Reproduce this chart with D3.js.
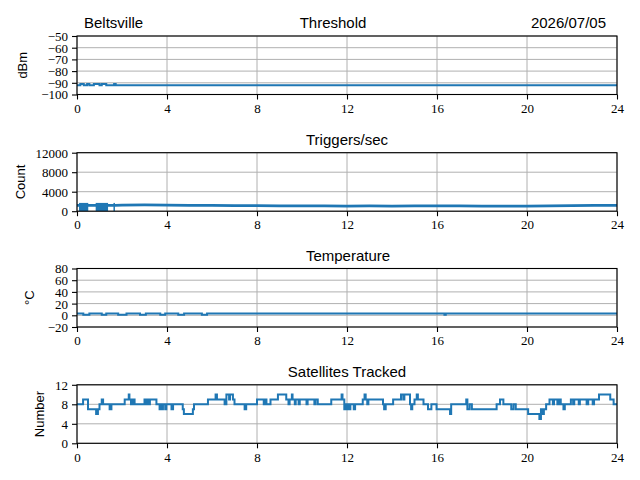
<!DOCTYPE html>
<meta charset="utf-8">
<script src="https://d3js.org/d3.v7.min.js"></script>
<style>
  body { margin: 0; background: #fff; }
  .tick text { font-family: "Liberation Serif", serif; font-size: 13px; fill: #000; }
  .ttl { font-family: "Liberation Sans", sans-serif; font-size: 15px; fill: #000; }
  .ylab { font-family: "Liberation Sans", sans-serif; font-size: 13px; fill: #000; }
</style>
<div id="chart"></div>
<script>
// x axis ticks (hours)
const hourTicks = [0, 4, 8, 12, 16, 20, 24];

// Threshold (dBm)
const threshHours  = [0, 0.15, 0.3, 0.45, 0.55, 0.75, 1.0, 1.1, 1.3, 1.65, 1.72, 24];
const threshValues = [-92, -91, -92, -91, -92, -91, -92, -91, -92, -91, -92, -92];
const threshTicks  = [-100, -90, -80, -70, -60, -50];

// Triggers/sec (Count)
const trigHours  = [0, 1.7, 2, 3, 4, 5, 6, 7, 8, 9, 10, 11, 12, 13, 14, 15, 16, 17, 18, 19, 20, 21, 22, 23, 24];
const trigValues = [1200, 1200, 1250, 1300, 1250, 1200, 1200, 1150, 1150, 1100, 1100, 1100, 1050, 1100, 1050, 1100, 1100, 1100, 1050, 1050, 1050, 1100, 1150, 1200, 1200];
// intervals where the count flickered between 0 and the peak
const trigFlickerStart = [0.09, 0.83, 1.62];
const trigFlickerEnd   = [0.50, 1.38, 1.68];
const trigFlickerPeak  = 1700;
const trigTicks = [0, 4000, 8000, 12000];

// Temperature (°C)
const tempHours  = [0, 0.28, 0.55, 1.1, 1.3, 1.83, 2.2, 2.8, 3.06, 3.7, 3.92, 4.5, 4.76, 5.55, 5.78, 16.33, 16.39, 24];
const tempValues = [3, 1, 3, 1, 3, 1, 3, 1, 3, 1, 3, 1, 3, 1, 3, 1, 3, 3];
const tempTicks  = [-20, 0, 20, 40, 60, 80];

// Satellites tracked (Number)
const satHours = [0, 0.27, 0.49, 0.85, 0.93, 1.0, 1.1, 1.16, 1.45, 1.53, 2.12, 2.3, 2.33, 2.4, 2.43, 2.5, 2.53, 2.56,
  3.0, 3.08, 3.12, 3.2, 3.24, 3.53, 3.67, 3.72, 3.78, 3.82, 3.92, 3.97, 4.2, 4.27, 4.7, 4.75, 5.15, 5.2,
  5.82, 6.16, 6.22, 6.56, 6.64, 6.76, 6.8, 6.93, 7.0, 7.45, 7.52, 8.0, 8.3, 8.38, 8.42, 8.6, 8.93, 9.3,
  9.4, 9.45, 9.55, 9.58, 9.68, 9.72, 9.85, 9.9, 10.2, 10.25, 10.55, 10.6, 10.7, 11.3, 11.76, 11.8, 11.88,
  11.92, 11.97, 12.02, 12.1, 12.15, 12.3, 12.36, 12.7, 12.78, 12.83, 12.9, 12.95, 13.6, 13.65, 13.72,
  14.05, 14.4, 14.5, 14.55, 14.8, 14.85, 14.9, 15.0, 15.1, 15.15, 15.4, 15.6, 15.75, 15.98, 16.58, 16.63,
  17.3, 17.35, 17.45, 17.55, 18.65, 18.8, 18.95, 19.3, 19.4, 19.5, 20.05, 20.55, 20.62, 20.7, 20.75,
  20.85, 21.0, 21.15, 21.2, 21.35, 21.42, 21.5, 21.62, 21.68, 21.95, 22.05, 22.1, 22.3, 22.35, 22.65,
  22.72, 22.92, 22.98, 23.2, 23.7, 23.85, 24];
const satCounts = [8, 9, 7, 6, 7, 8, 9, 8, 7, 8, 9, 10, 9, 8, 9, 8, 9, 8,
  9, 8, 9, 8, 9, 8, 7, 8, 7, 8, 7, 8, 7, 8, 7, 6, 7, 8,
  9, 10, 9, 8, 10, 9, 10, 9, 8, 7, 8, 9, 8, 9, 8, 9, 10, 9,
  8, 9, 10, 9, 8, 9, 8, 9, 8, 9, 8, 9, 8, 9, 10, 9, 7,
  8, 7, 8, 7, 8, 7, 8, 9, 10, 9, 8, 9, 8, 7, 8,
  9, 10, 9, 10, 8, 7, 8, 9, 10, 9, 8, 7, 8, 7, 6, 8,
  9, 7, 8, 7, 8, 9, 8, 7, 8, 7, 6, 5, 7, 6, 7,
  8, 9, 8, 9, 8, 9, 8, 7, 8, 9, 8, 9, 8, 9, 8,
  9, 8, 9, 10, 9, 8, 8];
const satTicks = [0, 4, 8, 12];

const W = 640, H = 480;
const left = 77, right = 617, ph = 58.5;
const tops = [36, 152.7, 268.5, 384.8];
const blue = "#1f77b4";

const svg = d3.select("#chart").append("svg")
    .attr("width", W).attr("height", H);

const x = d3.scaleLinear().domain([0, 24]).range([left, right]);

function panel(i, yDomain, yTicks, title, ylab, ylabX, hours, values, curve, lw) {
    const top = tops[i], bottom = top + ph;
    const y = d3.scaleLinear().domain(yDomain).range([bottom, top]);
    const g = svg.append("g");

    // grid
    g.append("g").selectAll("line").data(hourTicks).join("line")
        .attr("x1", d => x(d)).attr("x2", d => x(d))
        .attr("y1", top).attr("y2", bottom)
        .attr("stroke", "#b0b0b0").attr("stroke-width", 1);
    g.append("g").selectAll("line").data(yTicks).join("line")
        .attr("x1", left).attr("x2", right)
        .attr("y1", d => y(d)).attr("y2", d => y(d))
        .attr("stroke", "#b0b0b0").attr("stroke-width", 1);

    const clip = "clip" + i;
    svg.append("clipPath").attr("id", clip).append("rect")
        .attr("x", left).attr("y", top).attr("width", right - left).attr("height", ph);
    const plot = g.append("g").attr("clip-path", `url(#${clip})`);

    plot.append("path")
        .datum(hours.map((h, k) => [h, values[k]]))
        .attr("fill", "none").attr("stroke", blue).attr("stroke-width", lw || 2)
        .attr("d", d3.line().x(d => x(d[0])).y(d => y(d[1])).curve(curve));

    // frame
    g.append("rect").attr("x", left).attr("y", top)
        .attr("width", right - left).attr("height", ph)
        .attr("fill", "none").attr("stroke", "#000").attr("stroke-width", 1.1);

    const fmt = d => d < 0 ? "\u2212" + Math.abs(d) : String(d);
    const xa = g.append("g").attr("transform", `translate(0,${bottom})`)
        .call(d3.axisBottom(x).tickValues(hourTicks).tickSize(5).tickPadding(4).tickFormat(fmt));
    const ya = g.append("g").attr("transform", `translate(${left},0)`)
        .call(d3.axisLeft(y).tickValues(yTicks).tickSize(5).tickPadding(4).tickFormat(fmt));
    [xa, ya].forEach(a => {
        a.select(".domain").remove();
        a.selectAll(".tick line").attr("stroke", "#000").attr("stroke-width", 1.1);
    });
    ya.selectAll(".tick text").attr("dy", "0.34em");

    g.append("text").attr("class", "ttl")
        .attr("x", title[1]).attr("y", top - 8).attr("text-anchor", "middle").text(title[0]);
    g.append("text").attr("class", "ylab")
        .attr("transform", `translate(${ylabX},${(top + bottom) / 2}) rotate(-90)`)
        .attr("text-anchor", "middle").text(ylab);

    return { g: plot, y };
}

panel(0, [-100, -50], threshTicks, ["Threshold", 333], "dBm", 27,
    threshHours, threshValues, d3.curveStepAfter);

const p2 = panel(1, [0, 12000], trigTicks, ["Triggers/sec", 347], "Count", 25,
    trigHours, trigValues, d3.curveLinear, 2.6);
p2.g.selectAll("rect.flick")
    .data(trigFlickerStart.map((s, k) => [s, trigFlickerEnd[k]]))
    .join("rect").attr("class", "flick")
    .attr("x", d => x(d[0])).attr("width", d => Math.max(1.5, x(d[1]) - x(d[0])))
    .attr("y", p2.y(trigFlickerPeak)).attr("height", p2.y(0) - p2.y(trigFlickerPeak))
    .attr("fill", blue);

panel(2, [-20, 80], tempTicks, ["Temperature", 348], "\u00B0C", 34,
    tempHours, tempValues, d3.curveStepAfter);

panel(3, [0, 12], satTicks, ["Satellites Tracked", 347], "Number", 44,
    satHours, satCounts, d3.curveStepAfter);

// header texts
svg.append("text").attr("class", "ttl").attr("x", 84).attr("y", 28).text("Beltsville");
svg.append("text").attr("class", "ttl").attr("x", 606).attr("y", 28)
    .attr("text-anchor", "end").text("2026/07/05");
</script>
